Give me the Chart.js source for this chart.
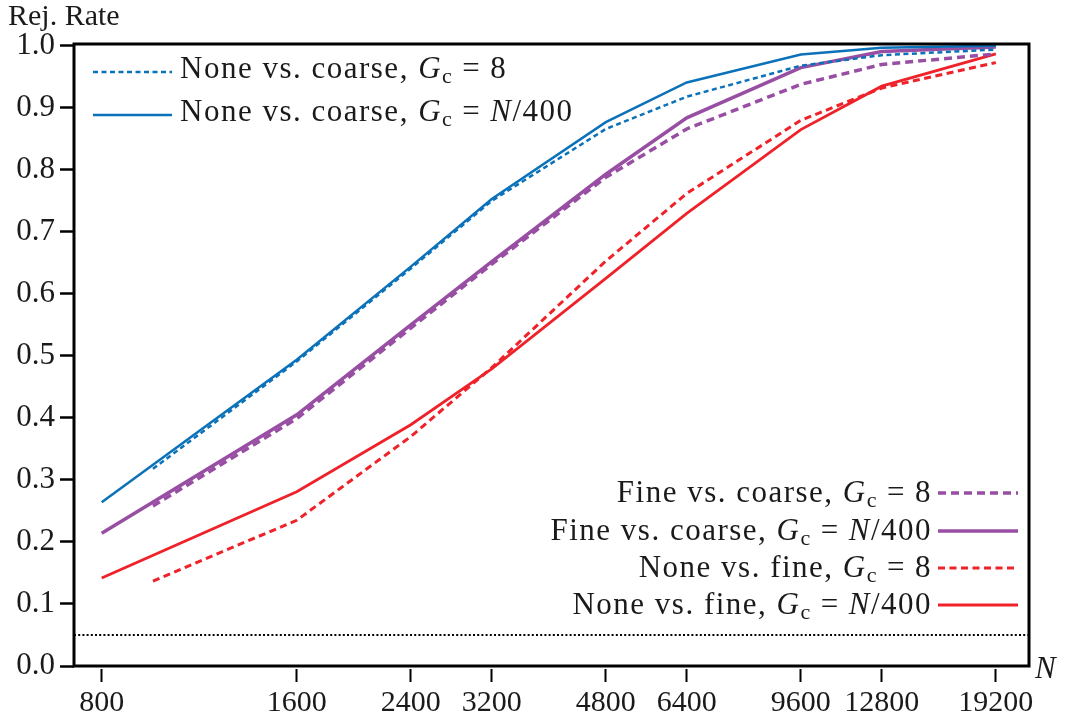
<!DOCTYPE html>
<html>
<head>
<meta charset="utf-8">
<title>Rejection rate vs. N</title>
<script src="https://cdn.jsdelivr.net/npm/chart.js@4.4.1/dist/chart.umd.min.js"></script>
<style>
    html, body { margin: 0; padding: 0; background: #fff; }
    canvas { display: block; }
</style>
</head>
<body>
<canvas id="rej-chart" width="1065" height="719"></canvas>
<script>
// ---------------------------------------------------------------------------
// Data
// ---------------------------------------------------------------------------
const N_TICKS = [800, 1600, 2400, 3200, 4800, 6400, 9600, 12800, 19200];
const N_N400 = [800, 1600, 2400, 3200, 4800, 6400, 9600, 12800, 19200];
const N_G8 = [960, 1600, 2400, 3200, 4800, 6400, 9600, 12800, 19200];

const noneCoarseG8   = [0.318, 0.491, 0.641, 0.750, 0.866, 0.918, 0.968, 0.985, 0.994];
const noneCoarseN400 = [0.264, 0.494, 0.644, 0.753, 0.877, 0.941, 0.986, 0.997, 1.000];
const fineCoarseG8   = [0.258, 0.399, 0.545, 0.648, 0.788, 0.866, 0.938, 0.970, 0.987];
const fineCoarseN400 = [0.214, 0.405, 0.550, 0.652, 0.793, 0.884, 0.965, 0.991, 0.998];
const noneFineG8     = [0.137, 0.235, 0.370, 0.481, 0.653, 0.762, 0.880, 0.932, 0.973];
const noneFineN400   = [0.142, 0.281, 0.389, 0.479, 0.625, 0.730, 0.865, 0.935, 0.987];

const ALPHA = 0.05;   // nominal level, dotted reference line

// ---------------------------------------------------------------------------
// Style
// ---------------------------------------------------------------------------
const SERIF = "'Liberation Serif', 'Times New Roman', serif";
const TICK_PX = 30;
const TEXT_PX = 31;
const INK = '#1a1a1a';
const BLUE = '#0b72ba';
const PURPLE = '#984ea3';
const RED = '#ef2129';

const Y_TICKS = Array.from({ length: 21 }, (_, i) => +(i * 0.05).toFixed(2));

function series(label, xs, ys, color, width, dash, group) {
    return {
        label,
        data: xs.map((x, i) => ({ x, y: ys[i] })),
        borderColor: color,
        backgroundColor: color,
        borderWidth: width,
        borderDash: dash,
        pointRadius: 0,
        tension: 0,
        fill: false,
        clip: false,
        legendGroup: group,
    };
}

const datasets = [
    series('None vs. coarse, G_c = 8',     N_G8,   noneCoarseG8,   BLUE,   2.5, [5, 3.5], 'top'),
    series('None vs. coarse, G_c = N/400', N_N400, noneCoarseN400, BLUE,   2.5, [],       'top'),
    series('Fine vs. coarse, G_c = 8',     N_G8,   fineCoarseG8,   PURPLE, 3.5, [8, 5],   'bottom'),
    series('Fine vs. coarse, G_c = N/400', N_N400, fineCoarseN400, PURPLE, 3.5, [],       'bottom'),
    series('None vs. fine, G_c = 8',       N_G8,   noneFineG8,     RED,    3,   [7, 4.5], 'bottom'),
    series('None vs. fine, G_c = N/400',   N_N400, noneFineN400,   RED,    2.8, [],       'bottom'),
];

// ---------------------------------------------------------------------------
// Text helpers (italic symbols, subscript c, wider space round "=")
// ---------------------------------------------------------------------------
function richParts(text) {
    const parts = [];
    text.split(/(G_c|\bN\b| = )/).forEach(tok => {
        if (!tok) return;
        if (tok === 'G_c') {
            parts.push({ s: 'G', font: `italic ${TEXT_PX}px ${SERIF}`, dy: 0 });
            parts.push({ s: 'c', font: `${Math.round(TEXT_PX * 0.72)}px ${SERIF}`, dy: 5 });
        } else if (tok === 'N') {
            parts.push({ s: 'N', font: `italic ${TEXT_PX}px ${SERIF}`, dy: 0 });
        } else if (tok === ' = ') {
            parts.push({ s: '=', font: `${TEXT_PX}px ${SERIF}`, dy: 0, pad: 9 });
        } else {
            parts.push({ s: tok, font: `${TEXT_PX}px ${SERIF}`, dy: 0 });
        }
    });
    return parts;
}

function drawRich(ctx, text, x, baseline, align) {
    const parts = richParts(text);
    ctx.save();
    ctx.letterSpacing = '1.5px';
    let total = 0;
    parts.forEach(p => {
        ctx.font = p.font;
        p.w = ctx.measureText(p.s).width + 2 * (p.pad || 0);
        total += p.w;
    });
    let cx = align === 'right' ? x - total : x;
    ctx.textAlign = 'left';
    ctx.textBaseline = 'alphabetic';
    parts.forEach(p => {
        ctx.font = p.font;
        ctx.fillText(p.s, cx + (p.pad || 0), baseline + p.dy);
        cx += p.w;
    });
    ctx.restore();
}

function drawSample(ctx, ds, x0, x1, y) {
    ctx.save();
    ctx.strokeStyle = ds.borderColor;
    ctx.lineWidth = ds.borderWidth;
    ctx.setLineDash(ds.borderDash || []);
    ctx.beginPath();
    ctx.moveTo(x0, y);
    ctx.lineTo(x1, y);
    ctx.stroke();
    ctx.restore();
}

// ---------------------------------------------------------------------------
// Plugins: frame, reference line, legends, axis captions
// ---------------------------------------------------------------------------
const LEGEND_TOP = { sampleX0: 93, sampleX1: 172, textX: 180, rows: [72, 115] };
const LEGEND_BOTTOM = { textRight: 932, sampleX0: 938, sampleX1: 1018, rows: [493, 531, 568, 605] };

const framePlugin = {
    id: 'frame',
    beforeDatasetsDraw(chart) {
        const { ctx, chartArea: a, scales } = chart;
        const y = scales.y.getPixelForValue(ALPHA);
        ctx.save();
        ctx.strokeStyle = '#000';
        ctx.lineWidth = 2;
        ctx.setLineDash([2, 2.2]);
        ctx.beginPath();
        ctx.moveTo(a.left, y);
        ctx.lineTo(a.right, y);
        ctx.stroke();
        ctx.restore();
    },
    afterDraw(chart) {
        const { ctx, chartArea: a } = chart;
        ctx.save();
        ctx.strokeStyle = '#000';
        ctx.lineWidth = 3;
        ctx.setLineDash([]);
        ctx.strokeRect(a.left, a.top, a.right - a.left, a.bottom - a.top);

        ctx.fillStyle = INK;
        const top = chart.data.datasets.filter(d => d.legendGroup === 'top');
        top.forEach((ds, i) => {
            const y = LEGEND_TOP.rows[i];
            drawSample(ctx, ds, LEGEND_TOP.sampleX0, LEGEND_TOP.sampleX1, y);
            drawRich(ctx, ds.label, LEGEND_TOP.textX, y + 6, 'left');
        });
        const bottom = chart.data.datasets.filter(d => d.legendGroup === 'bottom');
        bottom.forEach((ds, i) => {
            const y = LEGEND_BOTTOM.rows[i];
            drawSample(ctx, ds, LEGEND_BOTTOM.sampleX0, LEGEND_BOTTOM.sampleX1, y);
            drawRich(ctx, ds.label, LEGEND_BOTTOM.textRight, y + 9, 'right');
        });

        ctx.font = `${TICK_PX}px ${SERIF}`;
        ctx.textAlign = 'left';
        ctx.textBaseline = 'alphabetic';
        ctx.fillText('Rej. Rate', 8, 25);
        ctx.font = `italic ${TEXT_PX}px ${SERIF}`;
        ctx.fillText('N', 1035, 678);
        ctx.restore();
    },
};

// ---------------------------------------------------------------------------
// Chart
// ---------------------------------------------------------------------------
new Chart(document.getElementById('rej-chart'), {
    type: 'line',
    data: { datasets },
    plugins: [framePlugin],
    options: {
        responsive: false,
        animation: false,
        devicePixelRatio: 1,
        layout: { padding: { top: 44, right: 36, left: 0, bottom: 0 } },
        plugins: { legend: { display: false }, tooltip: { enabled: false } },
        scales: {
            x: {
                type: 'logarithmic',
                min: 725,
                max: 21600,
                afterBuildTicks: (scale) => { scale.ticks = N_TICKS.map(v => ({ value: v })); },
                afterFit: (scale) => { scale.height = 53; },
                border: { display: false },
                grid: {
                    display: true, drawOnChartArea: false, drawTicks: true,
                    tickLength: 16, tickWidth: 2, tickColor: '#000', color: '#000',
                    tickBorderDash: [0, 3, 13, 100],
                },
                ticks: {
                    autoSkip: false, maxRotation: 0, padding: 3, color: INK,
                    font: { family: SERIF, size: TICK_PX },
                    callback: (v) => String(v),
                },
            },
            y: {
                min: 0,
                max: 1.003,
                afterBuildTicks: (scale) => { scale.ticks = Y_TICKS.map(v => ({ value: v })); },
                afterFit: (scale) => { scale.width = 74; },
                border: { display: false },
                grid: {
                    display: true, drawOnChartArea: false, drawTicks: true,
                    tickLength: 14, tickWidth: 2.5, tickColor: '#000', color: '#000',
                },
                ticks: {
                    padding: 5, color: INK,
                    font: { family: SERIF, size: 31 },
                    callback: (v) => Math.abs(v * 10 - Math.round(v * 10)) < 1e-6 ? v.toFixed(1) : '',
                },
            },
        },
    },
});
</script>
</body>
</html>
